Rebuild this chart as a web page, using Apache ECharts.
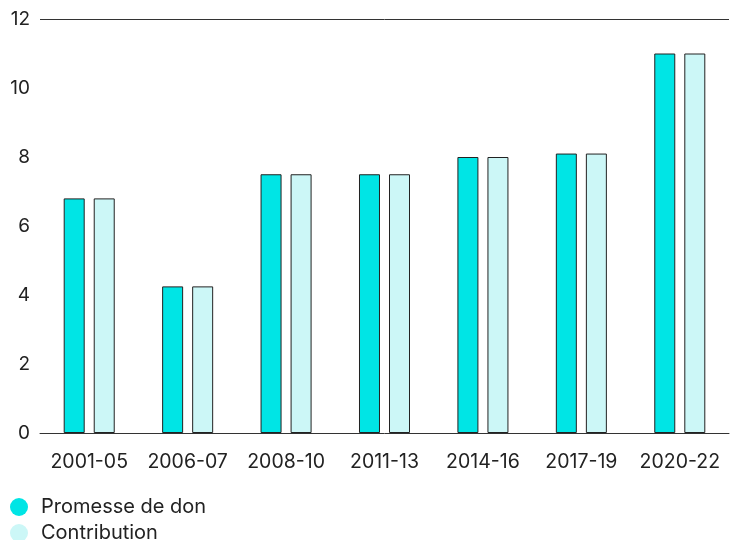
<!DOCTYPE html>
<html><head><meta charset="utf-8">
<script src="https://cdn.jsdelivr.net/npm/echarts@6/dist/echarts.min.js"></script>
<style>html,body{margin:0;padding:0;background:#fff}#c{width:734px;height:540px}</style>
</head><body><div id="c"></div>
<script>
const categories = ['2001-05','2006-07','2008-10','2011-13','2014-16','2017-19','2020-22'];
const promesse = [6.8, 4.25, 7.5, 7.5, 8.0, 8.1, 11.0];
const contribution = [6.8, 4.25, 7.5, 7.5, 8.0, 8.1, 11.0];
const seriesNames = ['Promesse de don','Contribution'];
const chart = echarts.init(document.getElementById('c'));
const font = 'Inter';
chart.setOption({
  animation:false,
  textStyle:{fontFamily:font},
  grid:{left:40,right:5,top:19,bottom:107},
  legend:{orient:'vertical',left:10,top:497,height:100,padding:0,itemWidth:20,itemHeight:18,itemGap:6,icon:'circle',
    itemStyle:{borderWidth:0},
    textStyle:{fontFamily:font,fontSize:20,color:'#222',padding:[0,0,0,7]},data:seriesNames},
  xAxis:{type:'category',data:categories,
    axisLine:{lineStyle:{color:'#333',width:1}},axisTick:{show:false},
    axisLabel:{interval:0,fontFamily:font,fontSize:19.5,color:'#222',margin:19,hideOverlap:false}},
  yAxis:{type:'value',min:0,max:12,interval:2,
    axisLine:{show:false},axisTick:{show:false},
    axisLabel:{fontFamily:font,fontSize:19,color:'#222',margin:10},
    splitLine:{show:true,lineStyle:{color:['rgba(0,0,0,0)','rgba(0,0,0,0)','rgba(0,0,0,0)','rgba(0,0,0,0)','rgba(0,0,0,0)','rgba(0,0,0,0)','#333'],width:1}}},
  series:[
    {name:seriesNames[0],type:'bar',data:promesse,barWidth:21,barGap:'43%',
     itemStyle:{color:'#00E5E5',borderColor:'#222',borderWidth:1}},
    {name:seriesNames[1],type:'bar',data:contribution,barWidth:21,
     itemStyle:{color:'#CCF7F7',borderColor:'#222',borderWidth:1}}
  ]
});
</script></body></html>
